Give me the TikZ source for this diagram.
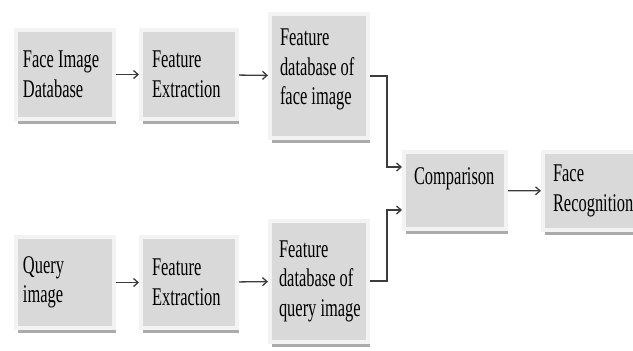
\documentclass[tikz,border=0pt]{standalone}
\usepackage{fontspec}
\setmainfont{Liberation Serif}[FakeStretch=0.645]
\usetikzlibrary{shadows,arrows.meta,calc}

\definecolor{boxgray}{HTML}{D9D9D9}
\definecolor{framegray}{HTML}{F3F3F3}
\definecolor{shadegray}{HTML}{ABABAB}
\definecolor{linegray}{HTML}{3C3C3C}

\newcommand{\stagefont}{\fontsize{25.5}{29.5}\selectfont}

\tikzset{
  stage/.style={draw=framegray, line width=4pt, fill=boxgray, align=flush left,
    inner xsep=7pt, inner ysep=0pt, font=\stagefont,
    drop shadow={shadow xshift=1.5pt, shadow yshift=-5pt, fill=shadegray, opacity=1}},
  conn/.style={draw=linegray, line width=1.3pt, -{Straight Barb[length=4.5pt,width=8pt]}}
}

\begin{document}
\begin{tikzpicture}[x=1pt, y=-1pt]
    \useasboundingbox (0,0) rectangle (633,351);

    % Upper row: the stored faces
    \node[stage, text width=84pt, minimum height=89pt] (facedb) at (65,74.5) {\mbox{Face Image}\\Database};
    \node[stage, inner xsep=11pt, text width=74pt, minimum height=89pt] (extractA) at (189,74.5) {Feature\\Extraction};
    \node[stage, inner xsep=10pt, text width=78pt, minimum height=124pt, text depth=77pt] (featdbA) at (319,76) {Feature\\\mbox{database of}\\\mbox{face image}};

    % Lower row: the query
    \node[stage, text width=84pt, minimum height=91pt] (query) at (65,282.5) {Query\\image};
    \node[stage, inner xsep=11pt, text width=74pt, minimum height=91pt] (extractB) at (189,282.5) {Feature\\Extraction};
    \node[stage, inner xsep=9pt, text width=80pt, minimum height=121pt] (featdbB) at (319,281) {Feature\\\mbox{database of}\\\mbox{query image}};

    % Matching and result
    \node[stage, inner xsep=10pt, text width=82pt, minimum height=77pt, text depth=28pt] (compare) at (455,190.5) {Comparison};
    \node[stage, inner xsep=10pt, text width=84pt, minimum height=78pt] (result) at (595,191) {Face\\Recognition};

    % Ends of the two feeds into the comparison
    \coordinate (inTop) at ($(compare.west)+(0,-23.5)$);
    \coordinate (inBot) at ($(compare.west)+(0,19.5)$);

    % Connectors
    \draw[conn] (facedb) -- (extractA);
    \draw[conn] (extractA) -- (featdbA);
    \draw[conn] (query) -- (extractB);
    \draw[conn] (extractB) -- (featdbB);
    \draw[conn] (featdbA.east) -| ([xshift=-15pt]inTop) -- (inTop);
    \draw[conn] (featdbB.east) -| ([xshift=-15pt]inBot) -- (inBot);
    \draw[conn] (compare) -- (result);

\end{tikzpicture}
\end{document}
